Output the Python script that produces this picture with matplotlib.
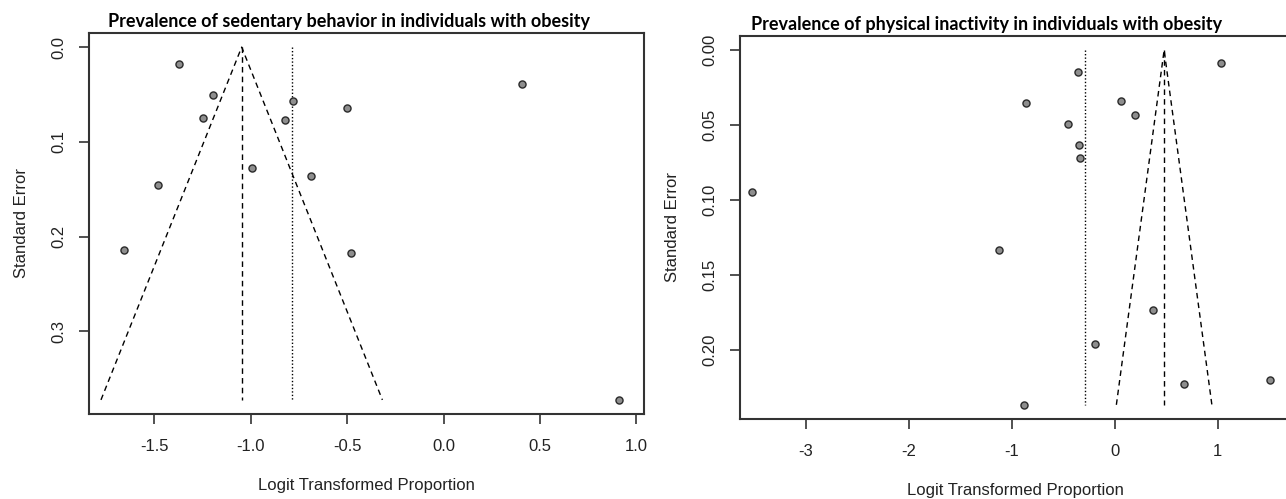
import numpy as np
import matplotlib
matplotlib.use("Agg")
import matplotlib.pyplot as plt

plt.rcParams['font.family'] = ['Liberation Sans', 'DejaVu Sans']
plt.rcParams['axes.unicode_minus'] = False

# Sedentary behaviour studies: logit proportion and standard error
sed_logit = [-1.373, 0.405, -1.197, -0.780, -0.500, -1.246, -0.822,
             -0.994, -0.689, -1.483, -1.655, -0.481, 0.911]
sed_se = [0.0176, 0.039, 0.0506, 0.0573, 0.064, 0.0745, 0.0766,
          0.1276, 0.1364, 0.1455, 0.214, 0.2176, 0.3724]
sed_pooled = -1.047
sed_adjusted = -0.784

# Physical inactivity studies
pa_logit = [-3.524, 1.027, -0.356, -0.859, 0.060, 0.200, -0.451,
            -0.348, -0.336, -1.123, 0.372, -0.192, -0.883, 0.675, 1.506]
pa_se = [0.0943, 0.0087, 0.0145, 0.0352, 0.0337, 0.0433, 0.0495,
         0.0633, 0.072, 0.133, 0.173, 0.196, 0.2364, 0.2227, 0.220]
pa_pooled = 0.479
pa_adjusted = -0.284

titles = ["Prevalence of sedentary behavior in individuals with obesity",
          "Prevalence of physical inactivity in individuals with obesity"]

W, H = 1286, 499
fig = plt.figure(figsize=(W / 100, H / 100), dpi=100)


def px_axes(left, top, right, bottom):
    return fig.add_axes([left / W, 1 - bottom / H, (right - left) / W, (bottom - top) / H])


def funnel(ax, est, se, pooled, adjusted):
    top = max(se)
    # 95% pseudo-confidence region around the pooled estimate
    ax.plot([pooled - 1.96 * top, pooled, pooled + 1.96 * top], [top, 0, top],
            color='black', lw=1, ls=(0, (4, 3)))
    ax.plot([pooled, pooled], [0, top], color='black', lw=1, ls=(0, (4, 3)))
    ax.plot([adjusted, adjusted], [0, top], color='black', lw=1, ls=(0, (1, 1.5)))
    ax.scatter(est, se, s=26, facecolor='#8e8e8e', edgecolor='#2a2a2a', lw=1, zorder=3)
    pad = 0.04 * top
    ax.set_ylim(top + pad, -pad)
    for sp in ax.spines.values():
        sp.set_color('#333333')
        sp.set_linewidth(1.5)
    ax.tick_params(axis='both', direction='out', length=7.2, width=1.2, color='#333333',
                   labelsize=12, labelcolor='#222222', pad=11)
    ax.tick_params(axis='y', labelrotation=90, pad=9)
    for lab in ax.get_yticklabels():
        lab.set_va('center')
    ax.set_xlabel('Logit Transformed Proportion', fontsize=12, color='#222222', labelpad=17)
    ax.set_ylabel('Standard Error', fontsize=12, color='#222222', labelpad=16)


# Left panel: sedentary behaviour
ax1 = px_axes(89, 33, 644, 414)
ax1.set_xlim(-1.839, 1.040)
ax1.set_xticks([-1.5, -1.0, -0.5, 0.0, 0.5, 1.0])
ax1.set_xticklabels(['-1.5', '-1.0', '-0.5', '0.0', '0.5', '1.0'])
ax1.set_yticks([0.0, 0.1, 0.2, 0.3])
ax1.set_yticklabels(['0.0', '0.1', '0.2', '0.3'])
funnel(ax1, sed_logit, sed_se, sed_pooled, sed_adjusted)
ax1.set_title(titles[0], fontsize=13, fontweight='bold', family=['Lato', 'DejaVu Sans'],
              pad=4, x=(349 - 89) / (644 - 89))

# Right panel: physical inactivity (frame runs past the figure edge)
ax2 = px_axes(740, 36, 1291, 419)
ax2.set_xlim(-3.636, 1.71)
ax2.set_xticks([-3, -2, -1, 0, 1])
ax2.set_xticklabels(['-3', '-2', '-1', '0', '1'])
ax2.set_yticks([0.0, 0.05, 0.10, 0.15, 0.20])
ax2.set_yticklabels(['0.00', '0.05', '0.10', '0.15', '0.20'])
funnel(ax2, pa_logit, pa_se, pa_pooled, pa_adjusted)
ax2.set_title(titles[1], fontsize=13, fontweight='bold', family=['Lato', 'DejaVu Sans'],
              pad=4, x=(987 - 740) / (1291 - 740))

fig.savefig('out.png', dpi=100)
